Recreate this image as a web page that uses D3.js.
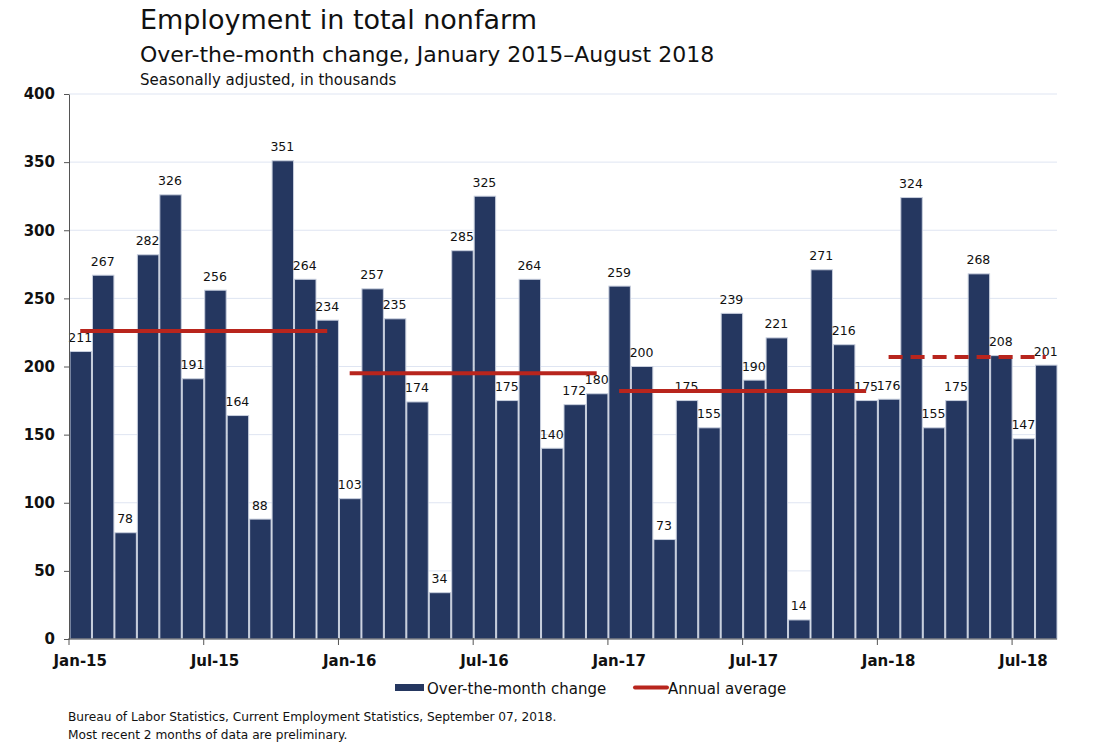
<!DOCTYPE html>
<html>
<head>
<meta charset="utf-8">
<script src="https://cdn.jsdelivr.net/npm/d3@7"></script>
<style>
  body { margin: 0; background: #fff; }
  text { font-family: "DejaVu Sans", Verdana, sans-serif; fill: #111; }
</style>
</head>
<body>
<svg id="chart" width="1100" height="748"></svg>
<script>
// monthly over-the-month change, Jan 2015 - Aug 2018 (thousands)
var months = [];
var years = [2015, 2016, 2017, 2018];
years.forEach(function(y) {
	for (var m = 0; m < 12; m++) {
		if (y == 2018 && m > 7) break;
		months.push(new Date(y, m, 1));
	}
});

var values = [211, 267, 78, 282, 326, 191, 256, 164, 88, 351, 264, 234,
              103, 257, 235, 174, 34, 285, 325, 175, 264, 140, 172, 180,
              259, 200, 73, 175, 155, 239, 190, 221, 14, 271, 216, 175,
              176, 324, 155, 175, 268, 208, 147, 201];

// annual averages (2018 is partial, drawn dashed)
var avg_Years = [2015, 2016, 2017, 2018];
var avg_Values = [226, 195, 182, 207];
var avg_Preliminary = [false, false, false, true];

var y_Ticks = [0, 50, 100, 150, 200, 250, 300, 350, 400];
var x_Tick_Labels = ["Jan-15", "Jul-15", "Jan-16", "Jul-16", "Jan-17", "Jul-17", "Jan-18", "Jul-18"];

/* COLOURS */
var bar_Colour = "#253760";
var bar_Edge = "#c8cfde";
var avg_Colour = "#b8251d";
var grid_Colour = "#dfe5f2";
var axis_Colour = "#555";

var margin = {left: 69, right: 43, top: 94, bottom: 109};
var width = 1100 - margin.left - margin.right;
var height = 748 - margin.top - margin.bottom;

var svg = d3.select("#chart");
var g = svg.append("g").attr("transform", "translate(" + margin.left + "," + margin.top + ")");

var x = d3.scaleBand().domain(d3.range(values.length)).range([0, width]).padding(0);
var y = d3.scaleLinear().domain([0, 400]).range([height, 0]);

/* gridlines */
g.selectAll("line.grid").data(y_Ticks.slice(1)).enter().append("line")
	.attr("class", "grid")
	.attr("x1", 0).attr("x2", width)
	.attr("y1", function(d) { return y(d); })
	.attr("y2", function(d) { return y(d); })
	.attr("stroke", grid_Colour).attr("stroke-width", 1);

/* bars */
g.selectAll("rect.bar").data(values).enter().append("rect")
	.attr("class", "bar")
	.attr("x", function(d, i) { return x(i) + 1; })
	.attr("width", x.bandwidth() - 1)
	.attr("y", function(d) { return y(d); })
	.attr("height", function(d) { return height - y(d); })
	.attr("fill", bar_Colour)
	.attr("stroke", bar_Edge)
	.attr("stroke-width", 1);

/* value labels */
g.selectAll("text.val").data(values).enter().append("text")
	.attr("class", "val")
	.attr("x", function(d, i) { return x(i) + x.bandwidth() / 2; })
	.attr("y", function(d) { return y(d) - 9.5; })
	.attr("text-anchor", "middle")
	.style("font-size", "12.5px")
	.text(function(d) { return d; });

/* annual averages */
avg_Years.forEach(function(yr, k) {
	var first = -1, last = -1;
	months.forEach(function(m, i) {
		if (m.getFullYear() == yr) { if (first < 0) first = i; last = i; }
	});
	g.append("line")
		.attr("x1", x(first) + x.bandwidth() / 2)
		.attr("x2", x(last) + x.bandwidth() / 2)
		.attr("y1", y(avg_Values[k]))
		.attr("y2", y(avg_Values[k]))
		.attr("stroke", avg_Colour)
		.attr("stroke-width", 4)
		.attr("stroke-dasharray", avg_Preliminary[k] ? "14,8" : null);
});

/* y axis */
var y_Axis = g.append("g").call(d3.axisLeft(y).tickValues(y_Ticks).tickSize(5).tickSizeOuter(0));
y_Axis.select(".domain").attr("stroke", axis_Colour);
y_Axis.selectAll(".tick line").attr("stroke", axis_Colour);
y_Axis.selectAll(".tick text")
	.attr("x", -14)
	.style("font-size", "15px").style("font-weight", "bold")
	.style("font-family", "\"DejaVu Sans\", Verdana, sans-serif").attr("fill", "#111");

/* x axis: ticks at Jan / Jul boundaries, labels under the month's bar */
var tick_Index = [];
months.forEach(function(m, i) { if (m.getMonth() % 6 == 0) tick_Index.push(i); });
var x_Axis = g.append("g").attr("transform", "translate(0," + height + ")");
x_Axis.append("line").attr("x1", 0).attr("x2", width).attr("stroke", axis_Colour);
var ticks = x_Axis.selectAll("g.tick").data(tick_Index).enter().append("g")
	.attr("transform", function(d) { return "translate(" + x(d) + ",0)"; });
ticks.append("line").attr("y1", -1).attr("y2", 6).attr("stroke", axis_Colour);
ticks.append("text")
	.attr("x", x.bandwidth() / 2)
	.attr("y", 27)
	.attr("text-anchor", "middle")
	.style("font-size", "15px").style("font-weight", "bold")
	.text(function(d, i) { return x_Tick_Labels[i]; });

/* titles */
svg.append("text").attr("x", 140).attr("y", 29).style("font-size", "27px").text("Employment in total nonfarm");
svg.append("text").attr("x", 140).attr("y", 62).style("font-size", "22px").text("Over-the-month change, January 2015\u2013August 2018");
svg.append("text").attr("x", 140).attr("y", 85).style("font-size", "15px").text("Seasonally adjusted, in thousands");

/* legend */
var legend = svg.append("g");
legend.append("rect").attr("x", 395).attr("y", 684).attr("width", 29).attr("height", 7).attr("fill", bar_Colour);
legend.append("text").attr("x", 427).attr("y", 694).style("font-size", "15px").text("Over-the-month change");
legend.append("line").attr("x1", 635).attr("x2", 667).attr("y1", 687.5).attr("y2", 687.5)
	.attr("stroke", avg_Colour).attr("stroke-width", 4).attr("stroke-linecap", "round");
legend.append("text").attr("x", 668).attr("y", 694).style("font-size", "15px").text("Annual average");

/* source */
svg.append("text").attr("x", 68).attr("y", 721).style("font-size", "12.2px")
	.text("Bureau of Labor Statistics, Current Employment Statistics, September 07, 2018.");
svg.append("text").attr("x", 68).attr("y", 739).style("font-size", "12.2px")
	.text("Most recent 2 months of data are preliminary.");
</script>
</body>
</html>
